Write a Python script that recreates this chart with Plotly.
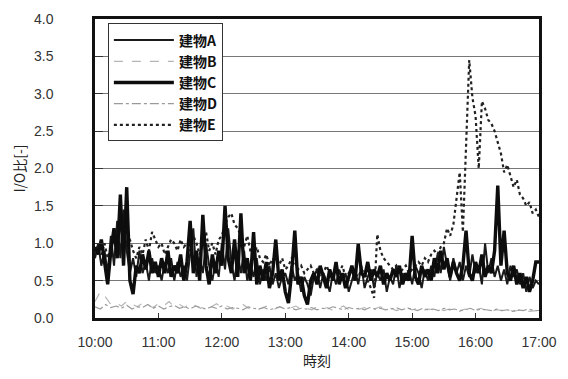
import numpy as np
import pandas as pd
import plotly.graph_objects as go

# ---- data (I/O ratio) ----
series_names = ["建物A", "建物B", "建物C", "建物D", "建物E"]

# 3-minute samples from 10:00 to 17:00
bldg_a = [0.8, 1.0, 0.7, 0.9, 0.6, 1.1, 0.7, 1.3, 0.8, 1.45, 0.9, 0.6, 0.8, 0.55, 0.9, 0.6, 0.75, 0.5, 0.8, 0.6,
          0.7, 0.5, 0.75, 0.6, 0.8, 0.5, 0.75, 0.55, 0.7, 0.5, 0.85, 1.2, 0.55, 0.8, 0.6, 1.0, 0.7, 0.5, 0.75, 0.55,
          1.0, 0.65, 1.2, 0.75, 0.5, 0.85, 0.6, 0.9, 0.5, 0.7, 0.55, 0.8, 0.45, 0.65, 0.5, 0.7, 0.45, 0.6, 0.4, 0.55,
          0.6, 0.45, 0.7, 0.5, 0.6, 0.35, 0.55, 0.45, 0.3, 0.55, 0.65, 0.4, 0.6, 0.5, 0.35, 0.6, 0.45, 0.65, 0.5, 0.6,
          0.35, 0.5, 0.65, 0.45, 0.7, 0.4, 0.55, 0.65, 0.4, 0.6, 0.5, 0.65, 0.35, 0.55, 0.45, 0.7, 0.4, 0.6, 0.5, 0.65,
          0.45, 0.7, 0.6, 0.4, 0.65, 0.5, 0.7, 0.55, 0.85, 0.6, 0.95, 0.7, 0.5, 0.8, 0.6, 0.75, 0.5, 0.7, 0.55, 0.85,
          0.6, 0.7, 0.45, 1.0, 0.6, 0.8, 0.55, 0.7, 0.5, 0.65, 0.45, 0.7, 0.55, 0.65, 0.45, 0.6, 0.35, 0.55, 0.4, 0.5,
          0.45]

bldg_c = [0.95, 0.85, 1.05, 0.75, 0.45, 0.9, 1.2, 0.8, 1.65, 0.7, 1.75, 0.5, 0.32, 0.7, 0.6, 0.85, 0.65, 0.9, 0.6, 0.75,
          0.55, 0.8, 0.6, 0.9, 0.55, 0.7, 0.6, 0.85, 0.5, 0.75, 1.3, 0.6, 0.9, 0.5, 1.38, 0.7, 0.45, 0.85, 0.6, 0.9,
          0.7, 1.5, 0.8, 0.6, 1.05, 0.55, 1.4, 0.6, 0.8, 0.5, 1.15, 0.45, 0.7, 0.5, 0.75, 0.4, 0.6, 1.05, 0.5, 0.65,
          0.35, 0.2, 0.6, 1.17, 0.45, 0.55, 0.3, 0.18, 0.5, 0.6, 0.45, 0.7, 0.55, 0.4, 0.65, 0.5, 0.75, 0.45, 0.6, 0.4,
          0.55, 0.7, 0.5, 0.99, 0.6, 0.55, 0.75, 0.5, 0.65, 0.55, 0.7, 0.45, 0.6, 0.5, 0.65, 0.55, 0.7, 0.45, 0.6, 0.5,
          1.1, 0.55, 0.45, 0.7, 0.55, 0.65, 0.5, 0.8, 0.6, 0.9, 0.65, 0.8, 0.55, 0.75, 0.6, 0.5, 0.7, 1.17, 0.6, 0.5,
          0.75, 0.6, 0.85, 0.55, 0.7, 0.6, 0.9, 1.77, 0.7, 1.17, 0.6, 0.5, 0.7, 0.45, 0.6, 0.4, 0.55, 0.35, 0.5, 0.75,
          0.75]

bldg_e = [0.9, 0.95, 0.85, 1.0, 0.8, 0.95, 1.1, 0.9, 1.3, 1.1, 1.25, 1.05, 0.9, 0.8, 0.95, 0.85, 1.05, 0.9, 1.15, 1.05,
          0.95, 1.0, 0.85, 0.95, 1.05, 1.0, 0.9, 1.05, 0.95, 1.0, 0.9, 1.1, 1.0, 0.85, 1.0, 1.15, 0.9, 1.0, 0.85, 1.05,
          1.1, 1.25, 1.35, 1.4, 1.25, 1.2, 1.1, 0.95, 1.1, 0.9, 0.85, 0.95, 0.8, 0.75, 0.85, 0.7, 0.8, 0.75, 0.7, 0.8,
          0.65, 0.7, 0.8, 0.75, 0.65, 0.7, 0.6, 0.65, 0.7, 0.6, 0.65, 0.55, 0.6, 0.7, 0.6, 0.55, 0.65, 0.6, 0.7, 0.55,
          0.6, 0.65, 0.6, 0.55, 0.65, 0.6, 0.5, 0.4, 0.27, 1.12, 0.9, 0.8, 0.75, 0.7, 0.65, 0.7, 0.6, 0.65, 0.7, 0.6,
          0.65, 0.7, 0.75, 0.7, 0.8, 0.75, 0.85, 0.9, 0.85, 0.95, 1.0, 1.2, 1.1, 1.25, 1.6, 1.95, 1.15, 2.3, 3.45, 2.95,
          2.7, 2.0, 2.9, 2.8, 2.65, 2.6, 2.5, 2.35, 2.2, 1.95, 2.05, 1.9, 1.75, 1.85, 1.65, 1.6, 1.5, 1.55, 1.4, 1.45,
          1.35]

# 5-minute samples from 10:00 to 17:00
bldg_b = [0.22, 0.35, 0.28, 0.18, 0.2, 0.16, 0.22, 0.18, 0.15, 0.2, 0.17, 0.14, 0.19, 0.16, 0.22, 0.15, 0.18, 0.14,
          0.2, 0.16, 0.13, 0.17, 0.15, 0.19, 0.14, 0.16, 0.12, 0.15, 0.18, 0.13, 0.16, 0.12, 0.14, 0.17, 0.12, 0.15,
          0.11, 0.14, 0.16, 0.12, 0.13, 0.11, 0.15, 0.12, 0.14, 0.1, 0.13, 0.16, 0.11, 0.13, 0.12, 0.14, 0.1, 0.12,
          0.15, 0.11, 0.13, 0.1, 0.12, 0.14, 0.11, 0.13, 0.1, 0.12, 0.11, 0.13, 0.1, 0.12, 0.11, 0.09, 0.12, 0.1,
          0.11, 0.13, 0.1, 0.09, 0.11, 0.1, 0.12, 0.09, 0.1, 0.11, 0.09, 0.1, 0.1]

bldg_d = [0.15, 0.12, 0.18, 0.14, 0.16, 0.13, 0.17, 0.12, 0.15, 0.14, 0.18, 0.13, 0.16, 0.12, 0.15, 0.17, 0.13, 0.15,
          0.12, 0.16, 0.14, 0.12, 0.15, 0.13, 0.16, 0.12, 0.14, 0.13, 0.11, 0.15, 0.13, 0.12, 0.14, 0.11, 0.13, 0.15,
          0.12, 0.14, 0.11, 0.13, 0.12, 0.14, 0.11, 0.13, 0.12, 0.15, 0.13, 0.11, 0.14, 0.12, 0.13, 0.11, 0.14, 0.12,
          0.13, 0.11, 0.12, 0.14, 0.11, 0.13, 0.12, 0.1, 0.13, 0.11, 0.12, 0.1, 0.13, 0.11, 0.12, 0.1, 0.11, 0.13,
          0.1, 0.12, 0.11, 0.1, 0.12, 0.1, 0.11, 0.09, 0.11, 0.1, 0.12, 0.1, 0.1]

x_ticks = ["10:00", "11:00", "12:00", "13:00", "14:00", "15:00", "16:00", "17:00"]
y_ticks = [0.0, 0.5, 1.0, 1.5, 2.0, 2.5, 3.0, 3.5, 4.0]

# ---- build time axis ----
day = "2000-01-01 "
t0 = pd.Timestamp(day + "10:00")
t1 = pd.Timestamp(day + "17:00")


def times(vals):
    return pd.date_range(t0, t1, periods=len(vals))


tick_vals = [pd.Timestamp(day + t) for t in x_ticks]

styles = {
    "建物A": dict(color="#1a1a1a", width=2.0, dash="solid"),
    "建物B": dict(color="#b5b5b5", width=1.2, dash="dash"),
    "建物C": dict(color="#0d0d0d", width=3.4, dash="solid"),
    "建物D": dict(color="#9a9a9a", width=1.2, dash="dashdot"),
    "建物E": dict(color="#222222", width=2.2, dash="dot"),
}
data_map = {"建物A": bldg_a, "建物B": bldg_b, "建物C": bldg_c, "建物D": bldg_d, "建物E": bldg_e}

fig = go.Figure()
draw_order = ["建物B", "建物D", "建物E", "建物A", "建物C"]
for name in draw_order:
    vals = data_map[name]
    fig.add_trace(go.Scatter(x=times(vals), y=vals, mode="lines", name=name,
                             line=styles[name], legendrank=series_names.index(name) + 1))

axis_font = dict(family="Liberation Sans, Arial, sans-serif", size=14, color="#333")
title_font = dict(family="Noto Sans CJK JP", size=14, color="#222")

fig.update_layout(
    width=568, height=379,
    margin=dict(l=95, r=23, t=11, b=61),
    paper_bgcolor="white", plot_bgcolor="white",
    font=dict(family="Noto Sans CJK JP, sans-serif", color="#222"),
    showlegend=True,
    legend=dict(x=0.029, y=0.985, xanchor="left", yanchor="top",
                bgcolor="white", bordercolor="#333", borderwidth=1,
                font=dict(family="Noto Sans CJK JP", size=14, color="#111", weight="bold"),
                itemwidth=60, tracegroupgap=0, traceorder="normal"),
)

fig.update_xaxes(
    range=[t0, t1], tickvals=tick_vals, ticktext=x_ticks,
    tickfont=axis_font, ticks="inside", ticklen=5, tickcolor="#333",
    showline=True, linecolor="#111", linewidth=2.5, mirror=True,
    showgrid=False, zeroline=False, ticklabelstandoff=9,
    title=dict(text="時刻", font=title_font, standoff=2),
)
fig.update_yaxes(
    range=[0, 4.0], tickvals=y_ticks, ticktext=[f"{v:.1f}" for v in y_ticks],
    tickfont=axis_font, ticks="inside", ticklen=8, tickcolor="#333",
    showline=True, linecolor="#111", linewidth=2.5, mirror=True,
    showgrid=True, gridcolor="#777", gridwidth=1, zeroline=False,
    ticklabelstandoff=36,
    title=dict(text="I/O比[-]", font=title_font, standoff=6),
)

fig.write_html("out.html")
